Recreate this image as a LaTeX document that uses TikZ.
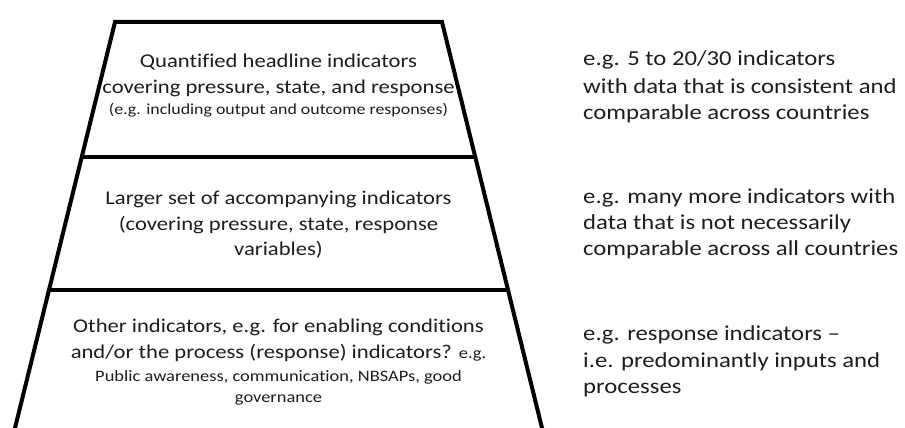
\documentclass[tikz,border=0pt]{standalone}
\usepackage{fontspec}
\setmainfont{Carlito}[FakeStretch=1.16, Ligatures=NoCommon]
\usetikzlibrary{calc}
\definecolor{inkgray}{HTML}{1E1E1E}
\tikzset{
  tier/.style={font=\fontsize{19.5}{24}\selectfont, text=inkgray, anchor=base, inner sep=0pt},
  tiersmall/.style={font=\fontsize{15.4}{18}\selectfont, text=inkgray, anchor=base, inner sep=0pt},
  note/.style={font=\fontsize{21.3}{25}\selectfont, text=inkgray, anchor=base west, inner sep=0pt},
  rim/.style={line width=4pt, line join=miter},
  cut/.style={line width=3.5pt}
}
\begin{document}
\begin{tikzpicture}[x=1pt,y=-1pt]
\fill[white] (0,0) rectangle (905,428);
\useasboundingbox (0,0) rectangle (905,428);
%the pyramid
\coordinate (tl) at (115,22);
\coordinate (tr) at (442,22);
\coordinate (bl) at (15,428);
\coordinate (br) at (542,428);
\coordinate (ml) at ($(tl)!0.3325!(bl)$);
\coordinate (mr) at ($(tr)!0.3325!(br)$);
\coordinate (nl) at ($(tl)!0.660!(bl)$);
\coordinate (nr) at ($(tr)!0.660!(br)$);
\draw[rim] ($(bl)+(-0.5,2)$) -- (tl) -- (tr) -- ($(br)+(0.5,2)$);
\draw[cut] (ml) -- (mr);
\draw[cut] (nl) -- (nr);
%top tier
\node[tier] (q1) at (278.5,68) {Quantified headline indicators};
\node[tier] (q2) at (278.5,93) {covering pressure, state, and response};
\node[tiersmall] (q3) at (278.5,114) {(e.g. including output and outcome responses)};
%middle tier
\node[tier] (m1) at (278.5,204) {Larger set of accompanying indicators};
\node[tier] (m2) at (278.5,230) {(covering pressure, state, response};
\node[tier] (m3) at (278.5,255) {variables)};
%bottom tier
\node[tier] (b1) at (278.5,332) {Other indicators, e.g. for enabling conditions};
\node[tier] (b2) at (278.5,358) {and/or the process (response) indicators? {\fontsize{15.9}{18}\selectfont e.g.}};
\node[tiersmall, font=\fontsize{15.9}{18}\selectfont] (b3) at (278.5,381) {Public awareness, communication, NBSAPs, good};
\node[tiersmall, font=\fontsize{15.9}{18}\selectfont] (b4) at (278.5,402) {governance};
%notes on the right
\node[note] (r1) at (583,66) {e.g. 5 to 20/30 indicators};
\node[note] (r2) at (583,93) {with data that is consistent and};
\node[note] (r3) at (583,119) {comparable across countries};
\node[note] (s1) at (583,203) {e.g. many more indicators with};
\node[note] (s2) at (583,229) {data that is not necessarily};
\node[note] (s3) at (583,255) {comparable across all countries};
\node[note] (t1) at (583,340) {e.g. response indicators –};
\node[note] (t2) at (583,367) {i.e. predominantly inputs and};
\node[note] (t3) at (583,393) {processes};
\end{tikzpicture}
\end{document}
